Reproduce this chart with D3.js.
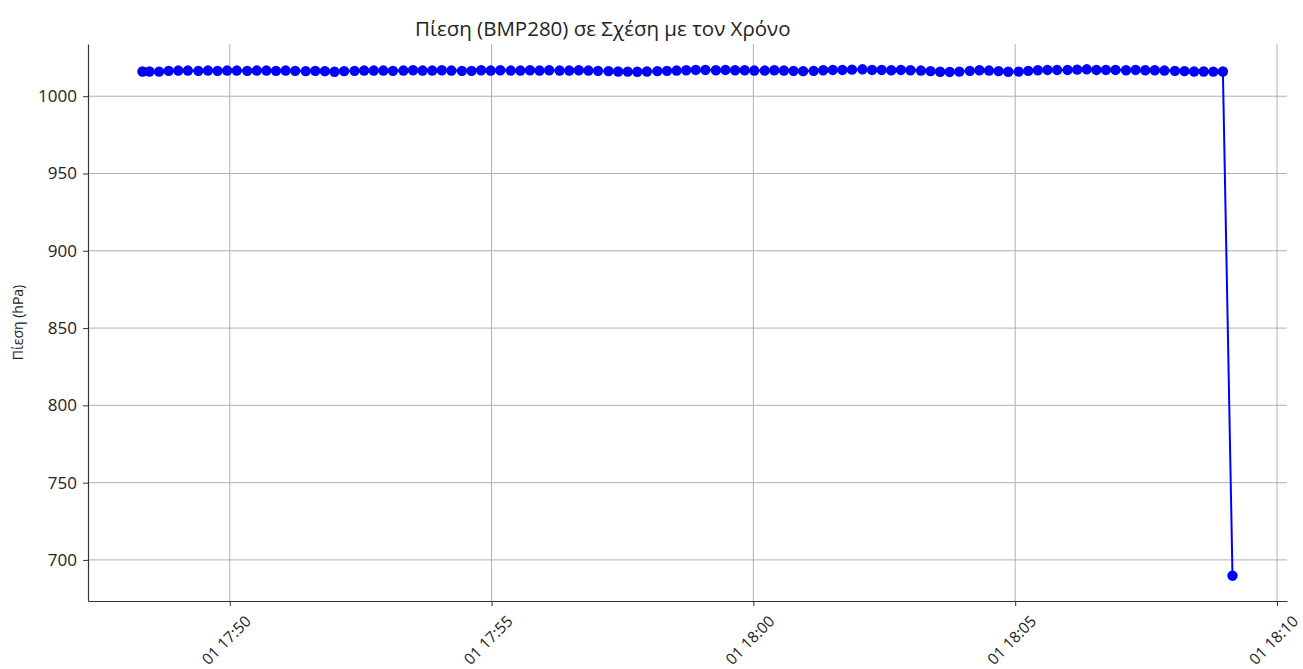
<!DOCTYPE html>
<html>
<head>
<meta charset="utf-8">
<script src="https://cdn.jsdelivr.net/npm/d3@7"></script>
<style>
  body { margin: 0; background: #fff; }
  text { font-family: "Open Sans", "Noto Sans", "DejaVu Sans", sans-serif; fill: #222; }
</style>
</head>
<body>
<div id="viz"></div>
<script>
// Pressure readings of the BMP280 against time.
// Times are seconds after 17:48:00 on day 01.
var startTime = "2024-01-01T17:48:00";
var secondsAfterStart = [
  20, 28, 39, 50, 61, 72, 84, 95, 106, 117, 128, 140, 151, 162, 173, 184, 195, 207, 218, 229,
  240, 251, 263, 274, 285, 296, 307, 319, 330, 341, 352, 363, 374, 386, 397, 408, 419, 430, 442, 453,
  464, 475, 486, 498, 509, 520, 531, 542, 554, 565, 576, 587, 598, 610, 621, 632, 643, 654, 665, 677,
  688, 699, 710, 721, 733, 744, 755, 766, 777, 789, 800, 811, 822, 833, 845, 856, 867, 878, 889, 900,
  912, 923, 934, 945, 956, 968, 979, 990, 1001, 1012, 1024, 1035, 1046, 1057, 1068, 1080, 1091, 1102, 1113, 1124,
  1135, 1147, 1158, 1169, 1180, 1191, 1203, 1214, 1225, 1236, 1247, 1258, 1269
];
var pressure = [
  1016.0, 1016.0, 1015.9, 1016.4, 1016.6, 1016.6, 1016.4, 1016.6, 1016.4, 1016.6,
  1016.6, 1016.4, 1016.6, 1016.6, 1016.4, 1016.6, 1016.4, 1016.2, 1016.4, 1016.2,
  1015.8, 1016.2, 1016.4, 1016.6, 1016.6, 1016.6, 1016.4, 1016.6, 1016.8, 1016.6,
  1016.6, 1016.8, 1016.6, 1016.4, 1016.4, 1016.8, 1016.6, 1016.8, 1016.6, 1016.6,
  1016.8, 1016.6, 1016.8, 1016.6, 1016.6, 1016.8, 1016.6, 1016.4, 1016.2, 1016.0,
  1015.9, 1015.8, 1016.0, 1016.2, 1016.4, 1016.6, 1016.8, 1017.0, 1017.0, 1016.8,
  1017.0, 1016.8, 1016.8, 1016.6, 1016.6, 1016.8, 1016.6, 1016.4, 1016.2, 1016.4,
  1016.8, 1017.0, 1017.0, 1017.2, 1017.4, 1017.0, 1017.0, 1016.8, 1017.0, 1016.8,
  1016.6, 1016.2, 1015.8, 1015.7, 1015.9, 1016.4, 1016.8, 1016.6, 1016.2, 1015.8,
  1015.9, 1016.4, 1016.8, 1017.0, 1017.0, 1017.0, 1017.2, 1017.4, 1017.0, 1017.0,
  1017.0, 1016.8, 1017.0, 1016.8, 1016.8, 1016.6, 1016.4, 1016.2, 1016.0, 1016.0,
  1015.9, 1016.0, 689.8
];
var yTicks = [700, 750, 800, 850, 900, 950, 1000];
var titleText = "Πίεση (BMP280) σε Σχέση με τον Χρόνο";
var yLabel = "Πίεση (hPa)";

var W = 1303, H = 669;
var margin = {left: 88, right: 16, top: 44, bottom: 68};

var t0 = new Date(startTime);
var data = secondsAfterStart.map(function(s, i) {
  return {t: new Date(t0.getTime() + s * 1000), p: pressure[i]};
});

// matplotlib style 5% margins
function padded(ext) {
  var d = (ext[1] - ext[0]) * 0.05;
  return [ext[0] - d, ext[1] + d];
}
var tExt = d3.extent(data, function(d) { return +d.t; });
var x = d3.scaleTime()
  .domain(padded(tExt).map(function(v) { return new Date(v); }))
  .range([margin.left, W - margin.right]);
var y = d3.scaleLinear()
  .domain(padded(d3.extent(pressure)))
  .range([H - margin.bottom, margin.top]);

var svg = d3.select("#viz").append("svg")
  .attr("width", W).attr("height", H);

var xTicks = x.ticks(d3.timeMinute.every(5));

// grid
var grid = svg.append("g");
grid.selectAll(".vg").data(xTicks).enter().append("line")
  .attr("x1", function(d) { return x(d); }).attr("x2", function(d) { return x(d); })
  .attr("y1", margin.top).attr("y2", H - margin.bottom)
  .attr("stroke", "#b0b0b0").attr("stroke-width", 1);
grid.selectAll(".hg").data(yTicks).enter().append("line")
  .attr("x1", margin.left).attr("x2", W - margin.right)
  .attr("y1", function(d) { return y(d); }).attr("y2", function(d) { return y(d); })
  .attr("stroke", "#b0b0b0").attr("stroke-width", 1);

// axes
var fmt = d3.timeFormat("%d %H:%M");
var xAxis = svg.append("g")
  .attr("transform", "translate(0," + (H - margin.bottom) + ")")
  .call(d3.axisBottom(x).tickValues(xTicks).tickSizeInner(5).tickSizeOuter(0).tickFormat(fmt));
xAxis.selectAll("text")
  .attr("font-size", 15.5)
  .attr("text-anchor", "middle")
  .attr("dy", 0)
  .attr("y", 0)
  .attr("transform", "translate(0,43) rotate(-45)");

var yAxis = svg.append("g")
  .attr("transform", "translate(" + margin.left + ",0)")
  .call(d3.axisLeft(y).tickValues(yTicks).tickSizeInner(5).tickSizeOuter(0)
    .tickPadding(6).tickFormat(d3.format("d")));
yAxis.selectAll("text").attr("font-size", 17);

[xAxis, yAxis].forEach(function(a) {
  a.select(".domain").attr("stroke", "#333").attr("stroke-width", 1.2);
  a.selectAll(".tick line").attr("stroke", "#333");
  a.selectAll("text").style("fill", "#222");
});

// series
var line = d3.line()
  .x(function(d) { return x(d.t); })
  .y(function(d) { return y(d.p); });
svg.append("path").datum(data)
  .attr("d", line)
  .attr("fill", "none")
  .attr("stroke", "#0000ff")
  .attr("stroke-width", 2);
svg.append("g").selectAll("circle").data(data).enter().append("circle")
  .attr("cx", function(d) { return x(d.t); })
  .attr("cy", function(d) { return y(d.p); })
  .attr("r", 5.2)
  .attr("fill", "#0000ff");

// labels
svg.append("text")
  .attr("x", 415).attr("y", 36)
  .attr("font-size", 20.5)
  .text(titleText);
svg.append("text")
  .attr("transform", "translate(23," + ((margin.top + H - margin.bottom) / 2) + ") rotate(-90)")
  .attr("text-anchor", "middle")
  .attr("font-size", 14)
  .text(yLabel);
</script>
</body>
</html>
